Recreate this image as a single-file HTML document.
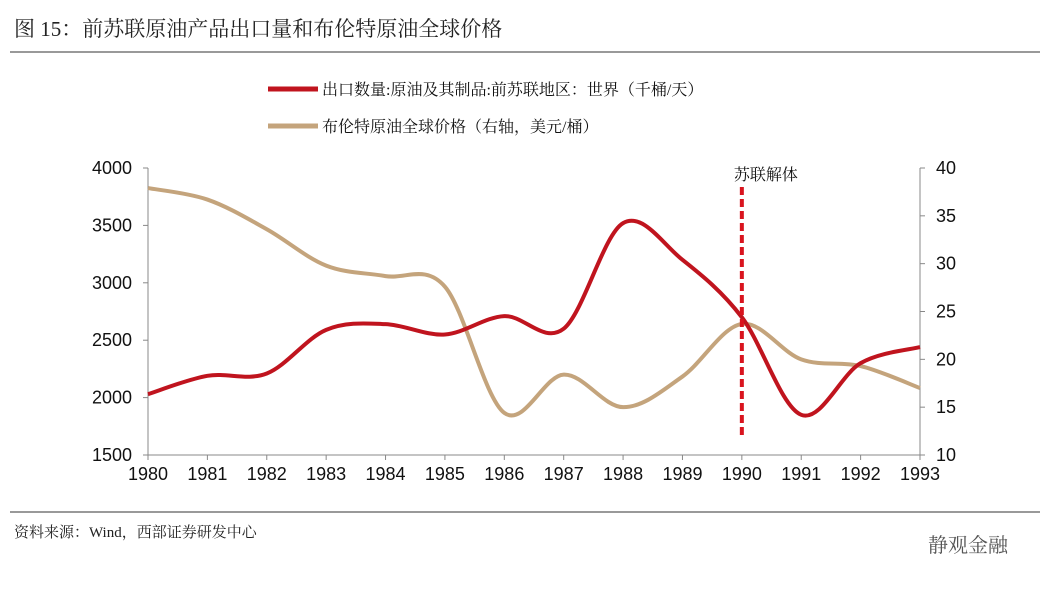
<!DOCTYPE html>
<html><head><meta charset="utf-8"><style>
body{margin:0;background:#fff;font-family:"Liberation Sans","Noto Sans CJK SC",sans-serif;}
svg text{font-family:"Liberation Sans","Noto Sans CJK SC",sans-serif;}
svg text.cjk{font-family:"Liberation Serif","Noto Serif CJK SC",serif;}
</style></head><body>
<svg id="c" width="1063" height="591" xmlns="http://www.w3.org/2000/svg">
<text class="cjk" x="14" y="36" font-size="21" fill="#222">图 15：前苏联原油产品出口量和布伦特原油全球价格</text>
<line x1="10" y1="52" x2="1040" y2="52" stroke="#333" stroke-width="1"/>
<line x1="268" y1="89" x2="318" y2="89" stroke="#c0141e" stroke-width="5"/>
<text class="cjk" x="322" y="95" font-size="16" fill="#111">出口数量:原油及其制品:前苏联地区：世界（千桶/天）</text>
<line x1="268" y1="126" x2="318" y2="126" stroke="#c4a47c" stroke-width="5"/>
<text class="cjk" x="322" y="132" font-size="16" fill="#111">布伦特原油全球价格（右轴，美元/桶）</text>
<g id="axes"></g>
<g id="marks"></g>
<line x1="10" y1="512" x2="1040" y2="512" stroke="#333" stroke-width="1"/>
<text class="cjk" x="14" y="537" font-size="15" fill="#222">资料来源：Wind，西部证券研发中心</text>
<text class="cjk" x="928" y="552" font-size="20" fill="#555">静观金融</text>
</svg>
<script>
const years=[1980,1981,1982,1983,1984,1985,1986,1987,1988,1989,1990,1991,1992,1993];
const exportVals=[2030,2190,2210,2590,2640,2550,2710,2600,3520,3200,2700,1850,2300,2440];
const brentVals=[37.9,36.7,33.6,29.8,28.7,27.6,14.4,18.4,15.0,18.2,23.7,20.0,19.3,17.0];
const leftTicks=[1500,2000,2500,3000,3500,4000];
const rightTicks=[10,15,20,25,30,35,40];
const eventYear=1990;
const NS="http://www.w3.org/2000/svg";
const X0=148,X1=920,YT=168,YB=455;
const x=v=>X0+(v-1980)/(13)*(X1-X0);
const yl=v=>YB-(v-1500)/2500*(YB-YT);
const yr=v=>YB-(v-10)/30*(YB-YT);
const ax=document.getElementById('axes'),mk=document.getElementById('marks');
function el(t,a,p,txt){const e=document.createElementNS(NS,t);for(const k in a)e.setAttribute(k,a[k]);if(txt!=null)e.textContent=txt;p.appendChild(e);return e;}
let e=el('line',{x1:X0,y1:YT,x2:X0,y2:YB,stroke:'#888'},ax);


e=el('line',{x1:X1,y1:YT,x2:X1,y2:YB,stroke:'#888'},ax);


e=el('line',{x1:X0,y1:YB,x2:X1,y2:YB,stroke:'#888'},ax);


leftTicks.forEach(t=>{
 e=el('line',{x1:X0-5,y1:yl(t),x2:X0,y2:yl(t),stroke:'#888'},ax);
 
 
 e=el('text',{x:X0-16,y:yl(t)+6,'font-size':18,'text-anchor':'end',fill:'#111'},ax,t);
 
 
});
rightTicks.forEach(t=>{
 e=el('line',{x1:X1,y1:yr(t),x2:X1+5,y2:yr(t),stroke:'#888'},ax);
 
 
 e=el('text',{x:X1+16,y:yr(t)+6,'font-size':18,fill:'#111'},ax,t);
 
 
});
years.forEach(t=>{
 e=el('line',{x1:x(t),y1:YB,x2:x(t),y2:YB+5,stroke:'#888'},ax);
 
 
 e=el('text',{x:x(t),y:YB+25,'font-size':18,'text-anchor':'middle',fill:'#111'},ax,t);
 
 
});
function spline(p){let d=`M${p[0][0]},${p[0][1]}`;for(let i=0;i<p.length-1;i++){const p0=p[i-1]||p[i],p1=p[i],p2=p[i+1],p3=p[i+2]||p2;
d+=` C${p1[0]+(p2[0]-p0[0])/6},${p1[1]+(p2[1]-p0[1])/6} ${p2[0]-(p3[0]-p1[0])/6},${p2[1]-(p3[1]-p1[1])/6} ${p2[0]},${p2[1]}`;}return d;}
e=el('path',{d:spline(years.map((t,i)=>[x(t),yr(brentVals[i])])),fill:'none',stroke:'#c4a47c','stroke-width':4},mk);


e=el('path',{d:spline(years.map((t,i)=>[x(t),yl(exportVals[i])])),fill:'none',stroke:'#c0141e','stroke-width':4},mk);


e=el('line',{x1:x(eventYear),y1:187,x2:x(eventYear),y2:437,stroke:'#d9141e','stroke-width':4,'stroke-dasharray':'8,4'},mk);


e=el('text',{x:x(eventYear)+24,y:180,'font-size':16,'text-anchor':'middle',fill:'#111',class:'cjk'},mk,'苏联解体');


</script>
</body></html>
